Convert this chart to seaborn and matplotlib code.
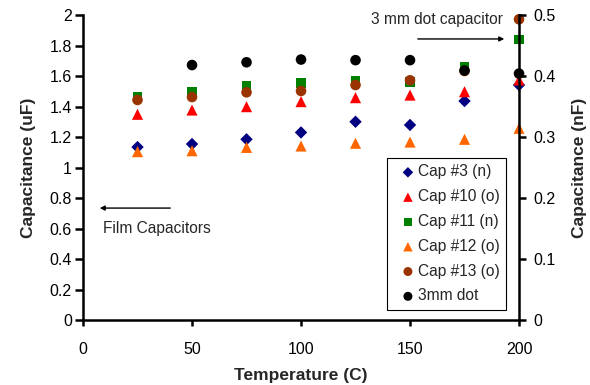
import pandas as pd
import numpy as np
import seaborn as sns
import matplotlib.pyplot as plt

# temperatures (C)
temps = [25, 50, 75, 100, 125, 150, 175, 200]
temps_dot = [50, 75, 100, 125, 150, 175, 200]

# film capacitors, uF
cap3 = [1.134, 1.154, 1.185, 1.230, 1.300, 1.279, 1.436, 1.541]
cap10 = [1.349, 1.377, 1.399, 1.432, 1.458, 1.475, 1.497, 1.574]
cap11 = [1.464, 1.493, 1.537, 1.552, 1.567, 1.563, 1.657, 1.840]
cap12 = [1.104, 1.110, 1.132, 1.141, 1.159, 1.167, 1.185, 1.257]
cap13 = [1.443, 1.462, 1.493, 1.502, 1.541, 1.572, 1.633, 1.972]

# 3 mm dot capacitor, nF
dot3mm = [0.418, 0.4225, 0.427, 0.426, 0.426, 0.409, 0.404]

series = [
    ('Cap #3 (n)', cap3, 'D', '#000080', 40),
    ('Cap #10 (o)', cap10, '^', '#FF0000', 64),
    ('Cap #11 (n)', cap11, 's', '#008000', 50),
    ('Cap #12 (o)', cap12, '^', '#FF6600', 64),
    ('Cap #13 (o)', cap13, 'o', '#993300', 58),
]


def main():
    sns.set_style('ticks')
    plt.rcParams['font.family'] = ['Liberation Sans', 'DejaVu Sans']
    plt.rcParams['font.size'] = 11

    fig = plt.figure(figsize=(5.9, 3.85), dpi=100)
    ax = fig.add_axes([0.1407, 0.1688, 0.739, 0.7922])
    ax2 = ax.twinx()

    for name, vals, mk, col, size in series:
        df = pd.DataFrame({'t': temps, 'c': vals})
        sns.scatterplot(data=df, x='t', y='c', marker=mk, color=col, s=size,
                        edgecolor='none', ax=ax, label=name, clip_on=False,
                        zorder=3)

    df_dot = pd.DataFrame({'t': temps_dot, 'c': dot3mm})
    sns.scatterplot(data=df_dot, x='t', y='c', marker='o', color='black', s=58,
                    edgecolor='none', ax=ax2, label='3mm dot', clip_on=False,
                    zorder=3)

    ax.set_xlim(0, 200)
    ax.set_ylim(0, 2)
    ax2.set_ylim(0, 0.5)
    ax.set_xticks(np.arange(0, 201, 50))
    ax.set_yticks(np.arange(0, 2.01, 0.2))
    ax.set_yticklabels(['0', '0.2', '0.4', '0.6', '0.8', '1', '1.2', '1.4',
                        '1.6', '1.8', '2'])
    ax2.set_yticks(np.arange(0, 0.51, 0.1))
    ax2.set_yticklabels(['0', '0.1', '0.2', '0.3', '0.4', '0.5'])

    ax.set_xlabel('Temperature (C)', fontweight='bold', fontsize=12.5,
                  labelpad=8.5)
    ax.set_ylabel('Capacitance (uF)', fontweight='bold', fontsize=12.5,
                  labelpad=10)
    ax2.set_ylabel('Capacitance (nF)', fontweight='bold', fontsize=12.5,
                   labelpad=12)

    for a in (ax, ax2):
        a.spines['top'].set_visible(False)
        for s in ('left', 'right', 'bottom'):
            a.spines[s].set_linewidth(1.8)
            a.spines[s].set_color('black')
        a.tick_params(width=1.8, labelsize=11.5, colors='black')
    ax.spines['right'].set_visible(False)
    ax2.spines['left'].set_visible(False)
    ax2.spines['bottom'].set_visible(False)
    ax.tick_params(axis='x', length=4, pad=11.5)
    ax.tick_params(axis='y', length=6, pad=2)
    ax2.tick_params(axis='y', length=5, pad=5)

    # annotations
    ax.annotate('', xy=(194.5, 1.843), xytext=(152.3, 1.843),
                arrowprops=dict(arrowstyle='-|>', color='black', lw=1,
                                mutation_scale=7))
    ax.text(192.5, 1.97, '3 mm dot capacitor', ha='right', va='center',
            fontsize=11.2)
    ax.annotate('', xy=(6.4, 0.734), xytext=(41.3, 0.734),
                arrowprops=dict(arrowstyle='-|>', color='black', lw=1,
                                mutation_scale=7))
    ax.text(9.2, 0.603, 'Film Capacitors', ha='left', va='center',
            fontsize=11.2)

    # combined legend
    h1, l1 = ax.get_legend_handles_labels()
    h2, l2 = ax2.get_legend_handles_labels()
    ax.get_legend().remove()
    ax2.get_legend().remove()
    leg = ax2.legend(h1 + h2, l1 + l2, loc='lower right',
                     bbox_to_anchor=(0.970, 0.033), borderaxespad=0,
                     fontsize=11.2, frameon=True, fancybox=False,
                     edgecolor='black', framealpha=1, handlelength=1.85,
                     handletextpad=-0.3, labelspacing=0.63, borderpad=0.42,
                     markerscale=0.85)
    leg.get_frame().set_linewidth(0.8)

    fig.savefig('out.png', dpi=100)


if __name__ == '__main__':
    main()
